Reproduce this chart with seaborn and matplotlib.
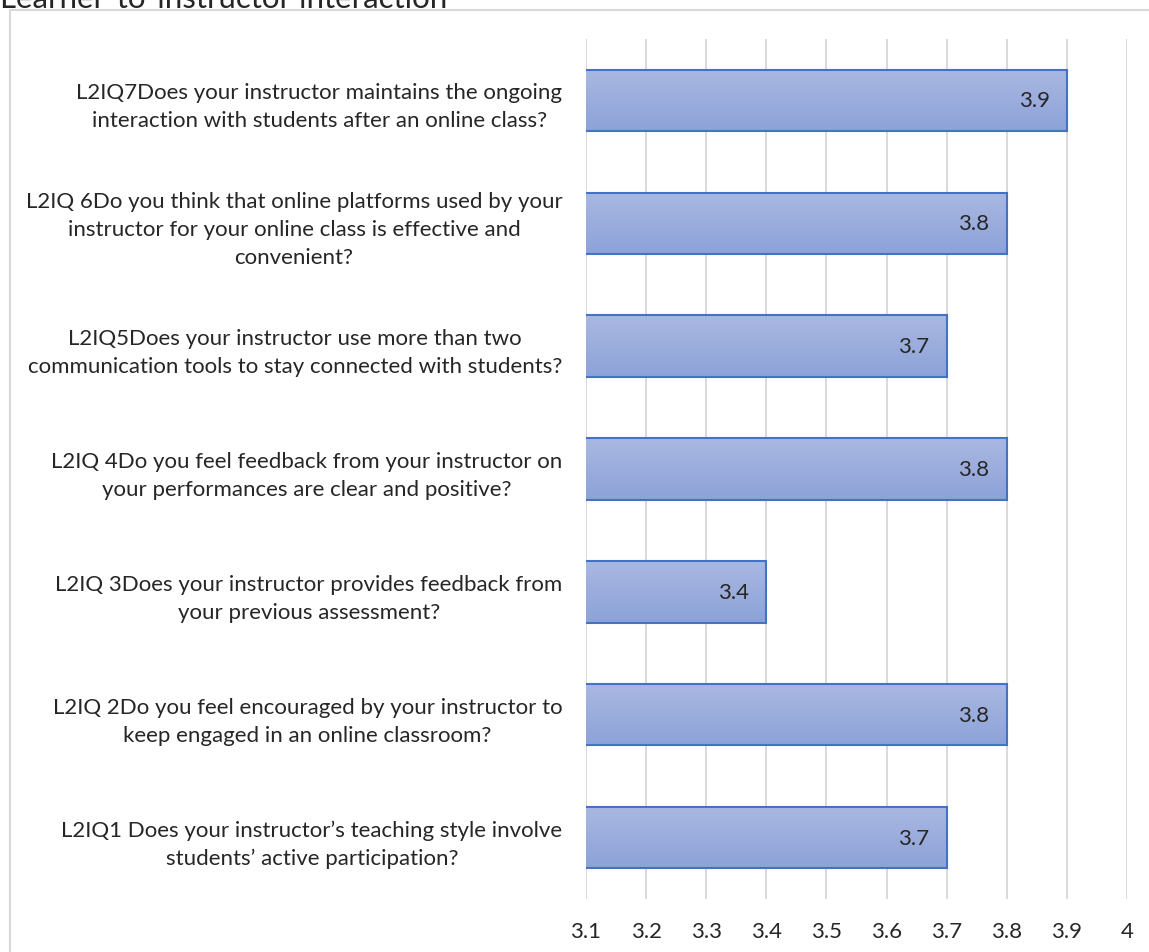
import numpy as np
import pandas as pd
import matplotlib
matplotlib.use("Agg")
import matplotlib.pyplot as plt
from matplotlib.patches import Rectangle
from matplotlib.colors import LinearSegmentedColormap
import seaborn as sns

questions = [
    "L2IQ7Does your instructor maintains the ongoing\ninteraction with students after an online class?",
    "L2IQ 6Do you think that online platforms used by your\ninstructor for your online class is effective and\nconvenient?",
    "L2IQ5Does your instructor use more than two\ncommunication tools to stay connected with students?",
    "L2IQ 4Do you feel feedback from your instructor on\nyour performances are clear and positive?",
    "L2IQ 3Does your instructor provides feedback from\nyour previous assessment?",
    "L2IQ 2Do you feel encouraged by your instructor to\nkeep engaged in an online classroom?",
    "L2IQ1 Does your instructor\u2019s teaching style involve\nstudents\u2019 active participation?",
]
scores = [3.9, 3.8, 3.7, 3.8, 3.4, 3.8, 3.7]
x_ticks = [3.1, 3.2, 3.3, 3.4, 3.5, 3.6, 3.7, 3.8, 3.9, 4.0]
x_tick_labels = ["3.1", "3.2", "3.3", "3.4", "3.5", "3.6", "3.7", "3.8", "3.9", "4"]
title = "Learner-to-instructor interaction"

df = pd.DataFrame({"question": questions, "score": scores})

sns.set_theme(style="white")
plt.rcParams["font.family"] = ["Lato", "DejaVu Sans"]

W, H = 1149, 953
fig = plt.figure(figsize=(W / 100, H / 100), dpi=100)
ax = fig.add_axes([586 / W, 1 - 900 / H, (1127 - 586) / W, (900 - 40) / H])

sns.barplot(data=df, y="question", x="score", orient="h", ax=ax,
            color="#9aabdc", edgecolor="#4472c4", linewidth=1.5, width=0.5)

XMIN, XMAX = 3.1, 4.0
ax.set_xlim(XMIN, XMAX)
ax.set_xticks(x_ticks)
ax.set_xticklabels(x_tick_labels)
ax.set_xlabel("")
ax.set_ylabel("")
ax.xaxis.grid(True, color="#d9d9d9", linewidth=1.4)
ax.set_axisbelow(True)
for s in ax.spines.values():
    s.set_visible(False)
FS = 16
ax.tick_params(axis="y", length=0, pad=17, labelsize=FS, labelcolor="#262626")
ax.tick_params(axis="x", length=0, pad=16, labelsize=FS, labelcolor="#262626")
for lbl in ax.get_yticklabels():
    lbl.set_horizontalalignment("right")
    lbl.set_multialignment("center")
    lbl.set_linespacing(1.5)

# gradient fill for bars
cmap = LinearSegmentedColormap.from_list("g", ["#aab8e2", "#8ca2d8"])
grad = np.linspace(0, 1, 256).reshape(-1, 1)
for p in list(ax.patches):
    y0 = p.get_y()
    w, h = p.get_width(), p.get_height()
    x_end = p.get_x() + w
    im = ax.imshow(grad, cmap=cmap, aspect="auto",
                   extent=(XMIN, x_end, y0 + h, y0), origin="upper", zorder=2.5)
    p.set_facecolor("none")
    p.set_zorder(3)
ax.set_ylim(len(questions) - 0.5, -0.5)
ax.set_xlim(XMIN, XMAX)

for i, v in enumerate(scores):
    ax.annotate(f"{v:.1f}", xy=(v, i), xytext=(-12.5, 0), textcoords="offset points",
                ha="right", va="center", fontsize=FS, color="#262626", zorder=5)

# chart border
fig.patches.append(Rectangle((10 / W, -0.1), 1.2, 1 - 11 / H + 0.1, transform=fig.transFigure,
                             fill=False, edgecolor="#d9d9d9", linewidth=1.5))
fig.text(0.0, 1 - 8 / H, title, fontsize=22.5, va="baseline", ha="left", color="#262626")

fig.savefig("out.png", dpi=100)
